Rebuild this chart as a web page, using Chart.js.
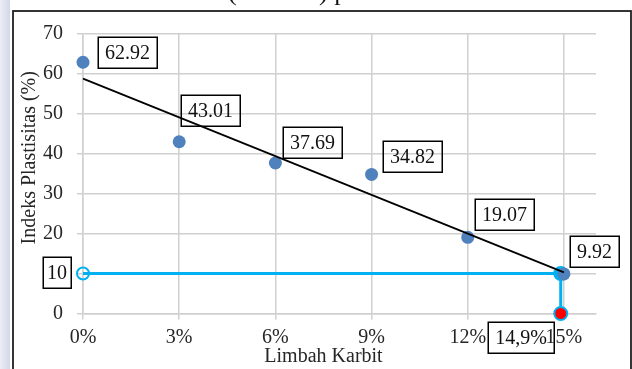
<!DOCTYPE html>
<html>
<head>
<meta charset="utf-8">
<script src="https://cdn.jsdelivr.net/npm/chart.js@4/dist/chart.umd.min.js"></script>
<style>
  html, body { margin: 0; padding: 0; background: #fff; overflow: hidden; }
  canvas { display: block; }
</style>
</head>
<body>
<canvas id="chart" width="632" height="369"></canvas>
<script>
// Kadar limbah karbit (%) dan indeks plastisitas tanah (%)
const limbahKarbit = [0, 3, 6, 9, 12, 15];
const indeksPlastisitas = [62.92, 43.01, 37.69, 34.82, 19.07, 9.92];

// Batas indeks plastisitas yang disyaratkan dan kadar limbah yang dibutuhkan
const batasIP = 10;
const kadarPerlu = 14.9;

// Label sumbu
const xTickValues = [0, 3, 6, 9, 12, 15];
const yTickValues = [0, 10, 20, 30, 40, 50, 60, 70];
const xAxisTitle = 'Limbah Karbit';
const yAxisTitle = 'Indeks Plastisitas (%)';
const captionText = '(sesudah) pada';

// Garis tren linear (kuadrat terkecil) dari data
const n = limbahKarbit.length;
const mx = limbahKarbit.reduce((a, b) => a + b, 0) / n;
const my = indeksPlastisitas.reduce((a, b) => a + b, 0) / n;
let sxy = 0, sxx = 0;
for (let i = 0; i < n; i++) {
  sxy += (limbahKarbit[i] - mx) * (indeksPlastisitas[i] - my);
  sxx += (limbahKarbit[i] - mx) ** 2;
}
const slope = sxy / sxx;
const intercept = my - slope * mx;
const xFirst = limbahKarbit[0], xLast = limbahKarbit[n - 1];
const trendPoints = [
  { x: xFirst, y: intercept + slope * xFirst },
  { x: xLast, y: intercept + slope * xLast }
];

const dataPoints = limbahKarbit.map((x, i) => ({ x, y: indeksPlastisitas[i] }));
const batasPoints = [
  { x: 0, y: batasIP },
  { x: kadarPerlu, y: batasIP },
  { x: kadarPerlu, y: 0 }
];

const FONT = "'Liberation Serif', 'Times New Roman', serif";
const FONT_SIZE = 20;
const TEXT = '#262626';
const GRID = '#d0d0d0';

// Posisi kotak label relatif terhadap titiknya (px)
const valueLabelOffsets = [[44, -10], [31, -31], [37, -21], [41, -18], [37, -23], [31, -22]];

Chart.defaults.font.family = FONT;
Chart.defaults.font.size = FONT_SIZE;
Chart.defaults.color = TEXT;

function drawBox(ctx, text, cx, cy, padX) {
  ctx.save();
  ctx.font = FONT_SIZE + 'px ' + FONT;
  const w = Math.round(ctx.measureText(text).width + 2 * padX);
  const h = 31;
  const left = Math.round(cx - w / 2), top = Math.round(cy - h / 2);
  ctx.lineWidth = 1.5;
  ctx.strokeStyle = '#000';
  ctx.strokeRect(left + 0.25, top + 0.25, w, h);
  ctx.fillStyle = '#111';
  ctx.textAlign = 'center';
  ctx.textBaseline = 'middle';
  ctx.fillText(text, left + w / 2, top + h / 2 + 1);
  ctx.restore();
}

const decorations = {
  id: 'decorations',
  beforeDraw(chart) {
    const ctx = chart.ctx;
    ctx.save();
    ctx.fillStyle = '#fff';
    ctx.fillRect(0, 0, chart.width, chart.height);
    const g = ctx.createLinearGradient(0, 0, 10, 0);
    g.addColorStop(0, '#eceef6');
    g.addColorStop(1, '#d3d7e8');
    ctx.fillStyle = g;
    ctx.fillRect(0, 0, 10, chart.height);
    // baris judul di atas bingkai (hanya bagian bawahnya yang tampak)
    ctx.font = '26px ' + FONT;
    ctx.fillStyle = '#111';
    ctx.textBaseline = 'alphabetic';
    ctx.fillText(captionText, 228, 0);
    // bingkai grafik
    ctx.lineWidth = 1.75;
    ctx.strokeStyle = '#1a1a1a';
    ctx.strokeRect(13, 11, 618, chart.height + 10);
    ctx.restore();
  },
  afterDraw(chart) {
    const ctx = chart.ctx;
    const xs = chart.scales.x, ys = chart.scales.y;
    // judul sumbu
    ctx.save();
    ctx.font = FONT_SIZE + 'px ' + FONT;
    ctx.fillStyle = TEXT;
    ctx.textAlign = 'center';
    ctx.textBaseline = 'middle';
    ctx.fillText(xAxisTitle, (xs.left + xs.right) / 2 - 16, 357);
    ctx.translate(30, (ys.top + ys.bottom) / 2 - 16);
    ctx.rotate(-Math.PI / 2);
    ctx.fillText(yAxisTitle, 0, 0);
    ctx.restore();

    // label nilai
    const meta = chart.getDatasetMeta(1);
    meta.data.forEach((pt, i) => {
      const [dx, dy] = valueLabelOffsets[i];
      drawBox(ctx, indeksPlastisitas[i].toFixed(2), pt.x + dx, pt.y + dy, 7);
    });
    // label batas
    drawBox(ctx, String(batasIP), xs.getPixelForValue(0) - 26, ys.getPixelForValue(batasIP) - 1.5, 4);
    drawBox(ctx, String(kadarPerlu).replace('.', ',') + '%',
      xs.getPixelForValue(kadarPerlu) - 40, ys.getPixelForValue(0) + 24, 7);
  }
};

new Chart(document.getElementById('chart'), {
  type: 'scatter',
  data: {
    datasets: [
      {
        type: 'line',
        label: 'Linear',
        data: trendPoints,
        borderColor: '#000',
        borderWidth: 1.75,
        pointRadius: 0,
        fill: false,
        order: 0,
        clip: false
      },
      {
        label: 'Indeks Plastisitas',
        data: dataPoints,
        backgroundColor: '#4f81bd',
        borderColor: '#4f81bd',
        borderWidth: 0,
        pointRadius: 6.5,
        pointHoverRadius: 6.5,
        order: 1,
        clip: false
      },
      {
        type: 'line',
        label: 'Batas',
        data: batasPoints,
        borderColor: '#00b0f0',
        borderWidth: 3,
        tension: 0,
        fill: false,
        pointRadius: [6, 7.5, 6.5],
        pointBackgroundColor: ['rgba(0,0,0,0)', '#00b0f0', '#ff0000'],
        pointBorderColor: '#00b0f0',
        pointBorderWidth: [2, 0, 2],
        order: 2,
        clip: false
      }
    ]
  },
  options: {
    responsive: false,
    animation: false,
    events: [],
    layout: { padding: { top: 34, right: 36, left: 0, bottom: 0 } },
    plugins: { legend: { display: false }, tooltip: { enabled: false } },
    scales: {
      x: {
        type: 'linear',
        min: 0,
        max: 16,
        afterBuildTicks: s => { s.ticks = xTickValues.map(v => ({ value: v })); },
        afterFit: s => { s.height = 55.5; },
        grid: { color: GRID, lineWidth: 1.5, tickLength: 6, drawTicks: true },
        border: { color: GRID, width: 1.5 },
        ticks: { callback: v => v + '%', padding: 6, maxRotation: 0, autoSkip: false, color: TEXT }
      },
      y: {
        type: 'linear',
        min: 0,
        max: 70,
        afterBuildTicks: s => { s.ticks = yTickValues.map(v => ({ value: v })); },
        afterFit: s => { s.width = 83; },
        grid: { color: GRID, lineWidth: 1.5, tickLength: 6, drawTicks: true },
        border: { color: GRID, width: 1.5 },
        // nilai batas ditulis di dalam kotak label tersendiri
        ticks: { padding: 14, color: TEXT, callback: v => (v === batasIP ? '' : String(v)) }
      }
    }
  },
  plugins: [decorations]
});
</script>
</body>
</html>
